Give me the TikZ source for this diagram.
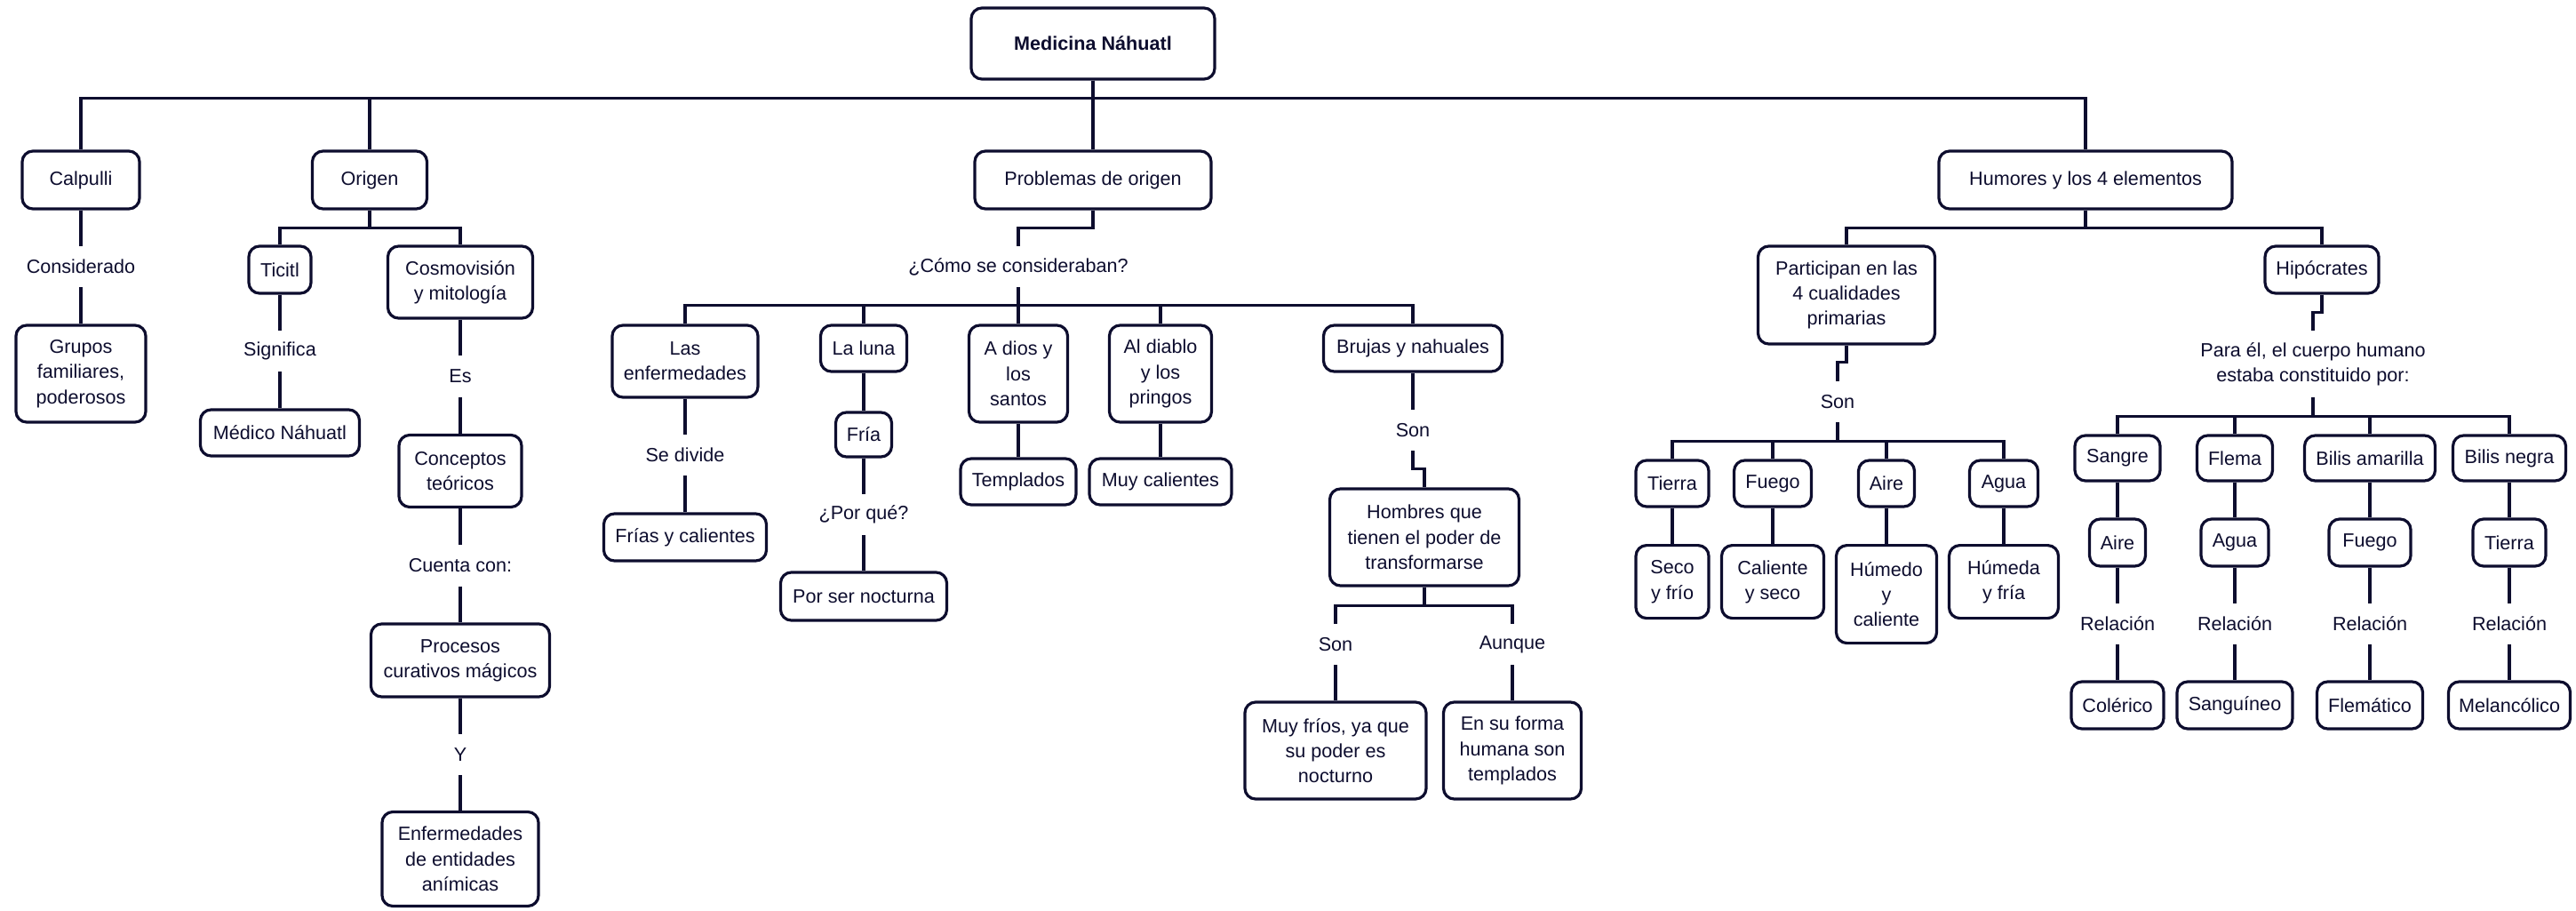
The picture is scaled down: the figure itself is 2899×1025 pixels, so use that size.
\documentclass[tikz,border=0pt]{standalone}
\usepackage{fontspec}
\setmainfont{Liberation Sans}
\definecolor{tinta}{RGB}{13,13,46}
\newcommand\letra{\fontsize{21.6pt}{28.3pt}\selectfont}
\begin{document}
\begin{tikzpicture}[x=1pt, y=-1pt,
    every node/.style={font=\letra, text=tinta},
    caja/.style={draw=tinta, line width=3.2pt, rounded corners=12pt, fill=white, align=center, inner sep=2pt},
    tam/.style 2 args={minimum width=#1pt, minimum height=#2pt},
    rotulo/.style={align=center, inner sep=0pt, minimum height=46pt},
    linea/.style={draw=tinta, line width=3.2pt}]
\useasboundingbox (0,0) rectangle (2899,1025);

\node[caja, tam={274}{80}, font=\letra\bfseries] (medicina) at (1230,49) {Medicina Náhuatl};

\node[caja, tam={132}{65}] (calpulli) at (91,202.5) {Calpulli};
\node[caja, tam={129}{65}] (origen) at (416,202.5) {Origen};
\node[caja, tam={266}{65}] (problemas) at (1230,202.5) {Problemas de origen};
\node[caja, tam={330}{65}] (humores) at (2347,202.5) {Humores y los 4 elementos};
\foreach \hijo in {calpulli,origen,problemas,humores}
    \draw[linea] (medicina.south) -- ++(0,20) -| (\hijo.north);

% Calpulli
\node[rotulo] (considerado) at (91,300) {Considerado};
\node[caja, tam={146}{109}] (grupos) at (91,420.5) {Grupos\\familiares,\\poderosos};
\draw[linea] (calpulli) -- (considerado) (considerado) -- (grupos);

% Origen
\node[caja, tam={70}{53}] (ticitl) at (315,303.5) {Ticitl};
\node[caja, tam={163}{81}] (cosmo) at (518,317.5) {Cosmovisión\\y mitología};
\foreach \hijo in {ticitl,cosmo}
    \draw[linea] (origen.south) -- ++(0,20) -| (\hijo.north);
\node[rotulo] (significa) at (315,395) {Significa};
\node[caja, tam={179}{52}] (medico) at (315,487) {Médico Náhuatl};
\node[rotulo] (es) at (518,423.5) {Es};
\node[caja, tam={138}{81}] (conceptos) at (518,530) {Conceptos\\teóricos};
\node[rotulo] (cuenta) at (518,636.5) {Cuenta con:};
\node[caja, tam={201}{82}] (procesos) at (518,743) {Procesos\\curativos mágicos};
\node[rotulo] (ytambien) at (518,849) {Y};
\node[caja, tam={176}{106}] (entidades) at (518,966.5) {Enfermedades\\de entidades\\anímicas};
\draw[linea] (ticitl) -- (significa) (significa) -- (medico);
\draw[linea] (cosmo) -- (es) (es) -- (conceptos) (conceptos) -- (cuenta)
    (cuenta) -- (procesos) (procesos) -- (ytambien) (ytambien) -- (entidades);

% Problemas de origen
\node[rotulo] (como) at (1146,300) {¿Cómo se consideraban?};
\draw[linea] (problemas.south) -- ++(0,20) -| (como.north);
\node[caja, tam={164}{81}] (lasenf) at (771,406.5) {Las\\enfermedades};
\node[caja, tam={97}{52}] (luna) at (972,392) {La luna};
\node[caja, tam={111}{109}] (dios) at (1146,420.5) {A dios y\\los\\santos};
\node[caja, tam={115}{109}] (diablo) at (1306,420.5) {Al diablo\\y los\\pringos};
\node[caja, tam={201}{52}] (brujas) at (1590,392) {Brujas y nahuales};
\foreach \hijo in {lasenf,luna,dios,diablo,brujas}
    \draw[linea] (como.south) -- ++(0,20) -| (\hijo.north);
\node[rotulo] (sedivide) at (771,512) {Se divide};
\node[caja, tam={183}{53}] (frias) at (771,604.5) {Frías y calientes};
\node[caja, tam={63}{50}] (fria) at (972,489) {Fría};
\node[rotulo] (porque) at (972,579) {¿Por qué?};
\node[caja, tam={187}{54}] (nocturna) at (972,671) {Por ser nocturna};
\node[caja, tam={130}{52}] (templados) at (1146,542) {Templados};
\node[caja, tam={160}{52}] (muycal) at (1306,542) {Muy calientes};
\draw[linea] (lasenf) -- (sedivide) (sedivide) -- (frias);
\draw[linea] (luna) -- (fria) (fria) -- (porque) (porque) -- (nocturna);
\draw[linea] (dios) -- (templados) (diablo) -- (muycal);
\node[rotulo] (sonbrujas) at (1590,484) {Son};
\node[caja, tam={213}{109}] (hombres) at (1603,604.5) {Hombres que\\tienen el poder de\\transformarse};
\draw[linea] (brujas) -- (sonbrujas);
\draw[linea] (sonbrujas.south) -- ++(0,20) -| (hombres.north);
\node[rotulo] (sonfrios) at (1503,725) {Son};
\node[rotulo] (aunque) at (1702,725) {Aunque};
\node[caja, tam={204}{109}] (frios) at (1503,844.5) {Muy fríos, ya que\\su poder es\\nocturno};
\node[caja, tam={155}{109}] (forma) at (1702,844.5) {En su forma\\humana son\\templados};
\foreach \hijo/\sig in {sonfrios/frios,aunque/forma}
    \draw[linea] (hombres.south) -- ++(0,21) -| (\hijo.north) (\hijo) -- (\sig);

% Humores y los 4 elementos
\node[caja, tam={199}{110}] (participan) at (2078,332) {Participan en las\\4 cualidades\\primarias};
\node[caja, tam={128}{53}] (hipocrates) at (2613,303.5) {Hipócrates};
\foreach \hijo in {participan,hipocrates}
    \draw[linea] (humores.south) -- ++(0,20) -| (\hijo.north);
\node[rotulo] (soncual) at (2068,452) {Son};
\draw[linea] (participan.south) -- ++(0,19) -| (soncual.north);
\foreach \x/\el/\we/\cu/\wc/\hc [count=\i] in {1882/Tierra/82/Seco\\y frío/82/82,
        1995/Fuego/87/Caliente\\y seco/115/82, 2123/Aire/63/Húmedo\\y\\caliente/113/110,
        2255/Agua/77/Húmeda\\y fría/123/82}
{
    \node[caja, tam={\we}{52}] (cuerpo\i) at (\x,544) {\el};
    \node[caja, tam={\wc}{\hc}, anchor=north] (cualidad\i) at (\x,612) {\cu};
    \draw[linea] (soncual.south) -- ++(0,21) -| (cuerpo\i.north);
    \draw[linea] (cuerpo\i) -- (cualidad\i);
}
\node[rotulo, minimum height=75pt] (parael) at (2603,409.5) {Para él, el cuerpo humano\\estaba constituido por:};
\draw[linea] (hipocrates.south) -- ++(0,20) -| (parael.north);
\foreach \x/\hu/\wh/\el/\we/\te/\wt [count=\i] in {2383/Sangre/96/Aire/63/Colérico/104,
        2515/Flema/85/Agua/76/Sanguíneo/130, 2667/Bilis amarilla/147/Fuego/92/Flemático/119,
        2824/Bilis negra/127/Tierra/82/Melancólico/137}
{
    \node[caja, tam={\wh}{51}] (humor\i) at (\x,515.5) {\hu};
    \node[caja, tam={\we}{53}] (elem\i) at (\x,610.5) {\el};
    \node[rotulo] (rel\i) at (\x,702) {Relación};
    \node[caja, tam={\wt}{53}] (temp\i) at (\x,793.5) {\te};
    \draw[linea] (parael.south) -- ++(0,21) -| (humor\i.north);
    \draw[linea] (humor\i) -- (elem\i) (elem\i) -- (rel\i) (rel\i) -- (temp\i);
}
\end{tikzpicture}
\end{document}
